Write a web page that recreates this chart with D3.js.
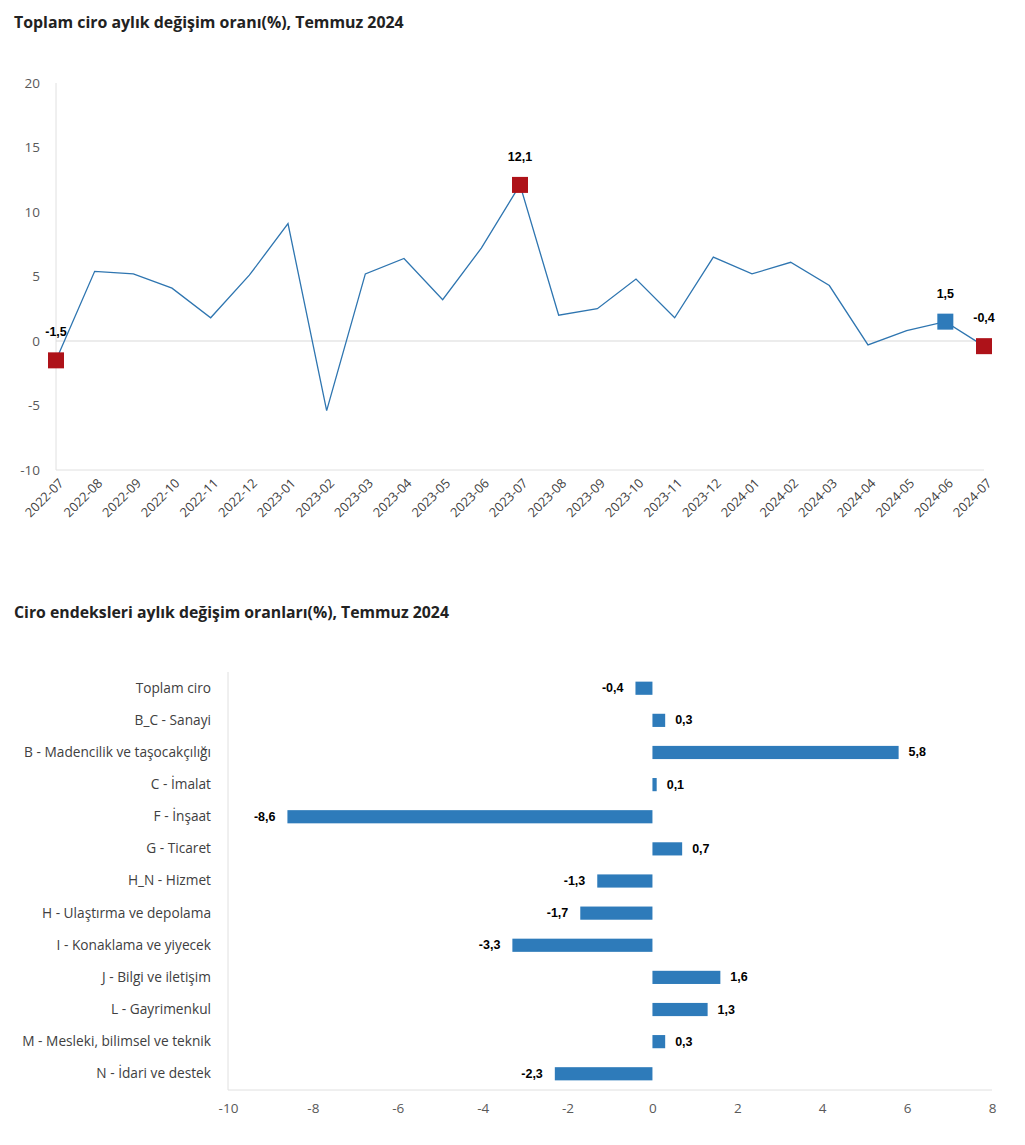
<!DOCTYPE html>
<html><head><meta charset="utf-8">
<script src="https://cdn.jsdelivr.net/npm/d3@7"></script>
<style>
body{margin:0;background:#fff;}
svg text{font-family:"Open Sans","Noto Sans",sans-serif;}
.val{font-family:"Liberation Sans",Arial,sans-serif !important;font-weight:bold;font-size:12.5px;fill:#000;}
</style></head>
<body>
<svg id="c" width="1025" height="1145"></svg>
<script>
// ---- Data: line chart ----
const months = ["2022-07","2022-08","2022-09","2022-10","2022-11","2022-12","2023-01","2023-02","2023-03","2023-04","2023-05","2023-06","2023-07","2023-08","2023-09","2023-10","2023-11","2023-12","2024-01","2024-02","2024-03","2024-04","2024-05","2024-06","2024-07"];
const monthlyChange = [-1.5,5.4,5.2,4.1,1.8,5.1,9.1,-5.4,5.2,6.4,3.2,7.2,12.1,2.0,2.5,4.8,1.8,6.5,5.2,6.1,4.3,-0.3,0.8,1.5,-0.4];
const highlighted = ["2022-07","2023-07","2024-06","2024-07"];
const highlightColors = ["#AE1219","#AE1219","#2E7BBA","#AE1219"];
const yTicks = [-10,-5,0,5,10,15,20];

// ---- Data: bar chart ----
const sectors = ["Toplam ciro","B_C - Sanayi","B - Madencilik ve taşocakçılığı","C - İmalat","F - İnşaat","G - Ticaret","H_N - Hizmet","H - Ulaştırma ve depolama","I - Konaklama ve yiyecek","J - Bilgi ve iletişim","L - Gayrimenkul","M - Mesleki, bilimsel ve teknik","N - İdari ve destek"];
const sectorChange = [-0.4,0.3,5.8,0.1,-8.6,0.7,-1.3,-1.7,-3.3,1.6,1.3,0.3,-2.3];
const xTicks = [-10,-8,-6,-4,-2,0,2,4,6,8];

const title1 = "Toplam ciro aylık değişim oranı(%), Temmuz 2024";
const title2 = "Ciro endeksleri aylık değişim oranları(%), Temmuz 2024";

const fmt = v => d3.format(".1f")(v).replace(".", ",").replace("−","-");
const fmtTick = v => String(v);

const svg = d3.select("#c");
const axisCol = "#e0e0e0", tickCol = "#595959", lineCol = "#2E75B0", barCol = "#2E7BBA";

// ---------- Chart 1 ----------
svg.append("text").attr("x",14).attr("y",28).attr("font-size",15.9).attr("font-weight","bold").attr("fill","#222").text(title1);

const x1 = d3.scalePoint().domain(months).range([56,984]);
const y1 = d3.scaleLinear().domain([-10,20]).range([470,83]);

const g1 = svg.append("g");
g1.append("line").attr("x1",56).attr("x2",56).attr("y1",y1(20)).attr("y2",y1(-10)).attr("stroke",axisCol);
g1.append("line").attr("x1",56).attr("x2",984).attr("y1",y1(-10)).attr("y2",y1(-10)).attr("stroke",axisCol);
g1.append("line").attr("x1",56).attr("x2",984).attr("y1",y1(0)).attr("y2",y1(0)).attr("stroke","#d9d9d9");

const yAx = g1.append("g").attr("transform","translate(56,0)").call(d3.axisLeft(y1).tickValues(yTicks).tickSize(0).tickPadding(16).tickFormat(fmtTick));
yAx.select(".domain").remove();
yAx.selectAll("text").attr("font-size",13.5).attr("fill",tickCol).attr("font-family","Open Sans");

const xAx = g1.append("g").attr("transform",`translate(0,${y1(-10)})`).call(d3.axisBottom(x1).tickSize(0).tickPadding(0));
xAx.select(".domain").remove();
xAx.selectAll("text").attr("font-size",12.8).attr("fill","#404040").attr("font-family","Open Sans")
  .attr("text-anchor","end").attr("dy",0).attr("y",0)
  .attr("transform","translate(8,14) rotate(-45)");

g1.append("path").datum(monthlyChange)
  .attr("d", d3.line().x((d,i)=>x1(months[i])).y(d=>y1(d)))
  .attr("fill","none").attr("stroke",lineCol).attr("stroke-width",1.3);

const hl = highlighted.map((m,k)=>({m, v: monthlyChange[months.indexOf(m)], c: highlightColors[k]}));
g1.selectAll("rect.mk").data(hl).enter().append("rect")
  .attr("x",d=>x1(d.m)-8).attr("y",d=>y1(d.v)-8).attr("width",16).attr("height",16)
  .attr("fill",d=>d.c);
g1.selectAll("text.lb").data(hl).enter().append("text").attr("class","val")
  .attr("x",d=>x1(d.m)).attr("y",d=>y1(d.v)-24).attr("text-anchor","middle").text(d=>fmt(d.v));

// ---------- Chart 2 ----------
svg.append("text").attr("x",14).attr("y",618).attr("font-size",15.8).attr("font-weight","bold").attr("fill","#222").text(title2);

const x2 = d3.scaleLinear().domain([-10,8]).range([228,992]);
const y2 = d3.scaleBand().domain(sectors).range([672,1090]).paddingInner(0.59).paddingOuter(0.3);

const g2 = svg.append("g");
g2.append("line").attr("x1",228).attr("x2",228).attr("y1",672).attr("y2",1090).attr("stroke",axisCol);
g2.append("line").attr("x1",228).attr("x2",992).attr("y1",1090).attr("y2",1090).attr("stroke",axisCol);

const yAx2 = g2.append("g").attr("transform","translate(228,0)").call(d3.axisLeft(y2).tickSize(0).tickPadding(17));
yAx2.select(".domain").remove();
yAx2.selectAll("text").attr("font-size",13.7).attr("fill","#404040").attr("font-family","Open Sans");

const xAx2 = g2.append("g").attr("transform","translate(0,1090)").call(d3.axisBottom(x2).tickValues(xTicks).tickSize(0).tickPadding(13).tickFormat(fmtTick));
xAx2.select(".domain").remove();
xAx2.selectAll("text").attr("font-size",13.5).attr("fill",tickCol).attr("font-family","Open Sans");

g2.selectAll("rect.bar").data(sectors).enter().append("rect")
  .attr("x",(d,i)=>x2(Math.min(0,sectorChange[i])))
  .attr("width",(d,i)=>Math.abs(x2(sectorChange[i])-x2(0)))
  .attr("y",d=>y2(d)).attr("height",y2.bandwidth())
  .attr("fill",barCol);

g2.selectAll("text.bl").data(sectors).enter().append("text").attr("class","val")
  .attr("x",(d,i)=>sectorChange[i]<0 ? x2(sectorChange[i])-12 : x2(sectorChange[i])+10)
  .attr("y",d=>y2(d)+y2.bandwidth()/2+4)
  .attr("text-anchor",(d,i)=>sectorChange[i]<0?"end":"start")
  .text((d,i)=>fmt(sectorChange[i]));
</script>
</body></html>
